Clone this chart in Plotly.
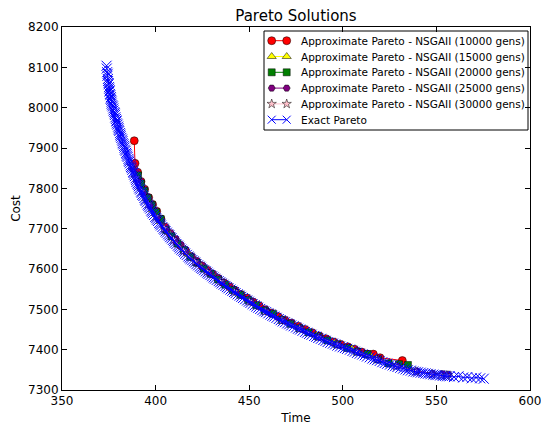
import plotly.graph_objects as go

# Exact Pareto front
exact_time = [373.8, 373.9, 374.1, 374.4, 374.3, 374.5, 374.6, 374.9, 374.9, 375.1,
              375.2, 375.5, 375.4, 375.6, 375.8, 376.1, 376.0, 376.3, 376.5, 376.5,
              376.8, 377.2, 377.4, 377.5, 377.9, 378.2, 378.3, 378.5, 378.8, 379.1,
              379.1, 379.3, 379.7, 380.0, 380.2, 380.3, 380.6, 381.0, 381.2, 381.3,
              381.7, 382.1, 382.3, 382.4, 382.8, 383.2, 383.4, 383.6, 384.0, 384.3,
              384.5, 384.7, 385.1, 385.5, 385.7, 385.9, 386.3, 386.7, 386.9, 387.2,
              387.6, 388.0, 388.2, 388.5, 388.9, 389.3, 389.6, 389.8, 390.3, 390.7,
              391.0, 391.3, 391.8, 392.3, 392.6, 392.9, 393.5, 394.0, 394.4, 394.7,
              395.3, 395.8, 396.2, 396.6, 397.2, 397.7, 398.1, 398.5, 399.2, 399.8,
              400.3, 400.7, 401.3, 401.9, 402.4, 402.9, 403.6, 404.3, 404.8, 405.3,
              406.0, 406.7, 407.3, 407.8, 408.5, 409.2, 409.8, 410.3, 411.1, 411.9,
              412.5, 413.0, 413.8, 414.6, 415.2, 415.8, 416.7, 417.5, 418.1, 418.7,
              419.6, 420.4, 421.1, 421.8, 422.7, 423.6, 424.3, 425.0, 425.9, 426.8,
              427.6, 428.3, 429.3, 430.2, 431.0, 431.7, 432.7, 433.7, 434.5, 435.3,
              436.3, 437.3, 438.1, 438.9, 440.0, 441.0, 441.9, 442.7, 443.8, 444.9,
              445.8, 446.7, 447.8, 448.9, 449.8, 450.7, 451.8, 452.9, 453.8, 454.8,
              455.9, 457.0, 458.0, 459.0, 460.2, 461.4, 462.4, 463.4, 464.6, 465.8,
              466.8, 467.9, 469.1, 470.3, 471.4, 472.4, 473.7, 475.0, 476.1, 477.2,
              478.5, 479.8, 480.9, 482.0, 483.3, 484.7, 485.8, 486.9, 488.3, 489.6,
              490.8, 491.9, 493.3, 494.7, 495.9, 497.1, 498.5, 499.9, 501.1, 502.3,
              503.8, 505.2, 506.4, 507.6, 509.0, 510.4, 511.7, 512.9, 514.4, 515.8,
              517.0, 518.3, 519.7, 521.1, 522.4, 523.7, 525.2, 526.6, 527.9, 529.2,
              530.7, 532.2, 533.5, 534.8, 536.3, 537.7, 539.0, 540.2, 541.6, 543.0,
              544.2, 545.4, 546.8, 548.3, 549.5, 550.6, 552.0, 553.4, 554.6, 555.7,
              557.0, 559.4, 561.8, 564.3, 566.5, 568.9, 571.2, 573.4, 575.3]
exact_cost = [8104, 8097, 8088, 8084, 8079, 8071, 8066, 8061, 8058, 8051,
              8047, 8043, 8040, 8034, 8031, 8026, 8022, 8019, 8015, 8010,
              8006, 8003, 7998, 7993, 7989, 7986, 7982, 7976, 7972, 7968,
              7966, 7961, 7958, 7953, 7949, 7945, 7942, 7937, 7933, 7929,
              7925, 7921, 7917, 7912, 7909, 7905, 7901, 7896, 7893, 7888,
              7885, 7881, 7878, 7873, 7869, 7866, 7862, 7857, 7853, 7850,
              7846, 7841, 7838, 7834, 7830, 7825, 7821, 7816, 7812, 7809,
              7805, 7800, 7797, 7792, 7789, 7784, 7781, 7776, 7772, 7769,
              7765, 7760, 7757, 7753, 7750, 7745, 7742, 7738, 7734, 7729,
              7726, 7722, 7719, 7714, 7711, 7708, 7704, 7700, 7697, 7693,
              7690, 7686, 7683, 7679, 7676, 7672, 7669, 7665, 7662, 7658,
              7655, 7651, 7648, 7645, 7642, 7638, 7635, 7631, 7628, 7625,
              7622, 7619, 7616, 7612, 7609, 7606, 7603, 7600, 7597, 7594,
              7591, 7588, 7585, 7582, 7579, 7576, 7573, 7570, 7567, 7564,
              7561, 7558, 7555, 7552, 7549, 7546, 7543, 7540, 7537, 7534,
              7531, 7528, 7525, 7522, 7519, 7516, 7513, 7510, 7507, 7504,
              7501, 7498, 7495, 7493, 7490, 7487, 7484, 7482, 7479, 7476,
              7473, 7470, 7468, 7465, 7463, 7460, 7458, 7455, 7452, 7450,
              7447, 7444, 7442, 7439, 7437, 7434, 7432, 7429, 7427, 7424,
              7422, 7419, 7417, 7415, 7413, 7410, 7408, 7406, 7404, 7402,
              7400, 7397, 7395, 7392, 7390, 7388, 7386, 7383, 7381, 7378,
              7376, 7374, 7372, 7369, 7367, 7365, 7363, 7361, 7359, 7357,
              7355, 7353, 7351, 7349, 7348, 7346, 7345, 7344, 7343, 7342,
              7341, 7340, 7339, 7338, 7337, 7337, 7336, 7335, 7335, 7334,
              7334, 7332, 7334, 7331, 7332, 7329, 7331, 7329, 7328]

# NSGAII, 10000 generations
nsga10k_time = [388.6, 389.0, 390.4, 392.2, 394.1, 396.3, 398.4, 400.6, 402.9, 405.0,
                407.8, 410.5, 413.2, 416.0, 419.1, 421.9, 424.7, 427.6, 430.5, 433.3,
                436.4, 439.5, 442.3, 445.6, 448.8, 452.1, 455.3, 458.5, 461.8, 465.4,
                469.1, 472.5, 476.2, 479.9, 483.7, 487.5, 491.1, 495.2, 498.9, 502.7,
                506.3, 510.1, 513.2, 516.3, 519.9, 531.8]
nsga10k_cost = [7918, 7862, 7840, 7817, 7798, 7777, 7760, 7743, 7724, 7704,
                7688, 7673, 7659, 7645, 7631, 7619, 7608, 7597, 7587, 7577,
                7566, 7556, 7547, 7537, 7528, 7518, 7509, 7499, 7491, 7482,
                7473, 7466, 7458, 7450, 7442, 7434, 7427, 7419, 7413, 7407,
                7401, 7394, 7389, 7389, 7380, 7373]

# NSGAII, 15000 generations
nsga15k_time = [389.5, 392.0, 395.0, 398.5, 402.5, 407.0, 412.0, 417.5, 423.5, 430.0,
                437.0, 444.5, 452.0, 460.0, 468.5, 477.0, 486.0, 495.5, 505.0, 515.0,
                525.0, 536.0]
nsga15k_cost = [7833, 7804, 7775, 7747, 7718, 7691, 7664, 7637, 7611, 7588,
                7564, 7540, 7516, 7494, 7473, 7454, 7436, 7417, 7402, 7384,
                7367, 7352]

# NSGAII, 20000 generations
nsga20k_time = [390.6, 392.2, 394.0, 395.9, 398.0, 400.3, 402.7, 405.6, 408.5, 411.7,
                415.0, 418.5, 422.0, 425.7, 429.5, 433.3, 437.2, 441.2, 445.3, 449.5,
                453.8, 458.2, 462.7, 467.3, 472.0, 476.8, 481.7, 486.7, 491.8, 497.0,
                502.3, 507.7, 513.2, 518.8, 524.5, 530.0, 534.8]
nsga20k_cost = [7832, 7812, 7794, 7776, 7759, 7741, 7724, 7697, 7681, 7663,
                7647, 7630, 7616, 7601, 7588, 7574, 7561, 7548, 7536, 7523,
                7510, 7497, 7489, 7474, 7464, 7453, 7443, 7433, 7423, 7413,
                7404, 7395, 7389, 7376, 7366, 7364, 7362]

# NSGAII, 25000 generations
nsga25k_time = [388.0, 390.5, 393.5, 397.0, 401.0, 405.5, 410.5, 416.0, 422.0, 428.5,
                435.5, 443.0, 451.0, 459.5, 468.0, 477.5, 487.5, 497.5, 508.0, 518.5,
                529.0, 539.5, 548.0, 553.5, 556.5]
nsga25k_cost = [7848, 7817, 7787, 7756, 7726, 7697, 7669, 7642, 7616, 7591,
                7566, 7543, 7519, 7494, 7473, 7452, 7431, 7412, 7395, 7377,
                7360, 7347, 7341, 7340, 7339]

# NSGAII, 30000 generations
nsga30k_time = [387.0, 389.5, 392.5, 396.0, 400.0, 404.5, 409.5, 415.0, 421.0, 427.5,
                434.5, 442.0, 450.0, 458.5, 467.5, 477.0, 487.0, 497.0, 507.5, 518.0,
                528.5, 539.0, 547.5, 552.5, 555.5]
nsga30k_cost = [7856, 7826, 7793, 7761, 7730, 7701, 7673, 7645, 7618, 7593,
                7569, 7544, 7520, 7495, 7473, 7452, 7431, 7412, 7394, 7376,
                7359, 7346, 7339, 7337, 7336]

series_names = ["Approximate Pareto - NSGAII (10000 gens)",
                "Approximate Pareto - NSGAII (15000 gens)",
                "Approximate Pareto - NSGAII (20000 gens)",
                "Approximate Pareto - NSGAII (25000 gens)",
                "Approximate Pareto - NSGAII (30000 gens)",
                "Exact Pareto"]

x_ticks = [350, 400, 450, 500, 550, 600]
y_ticks = [7300, 7400, 7500, 7600, 7700, 7800, 7900, 8000, 8100, 8200]

FONT = "DejaVu Sans"

# plot area in page pixels
PLOT_L, PLOT_R, PLOT_T, PLOT_B = 62, 530, 27, 390

styles = [
    dict(line=dict(color="#ff0000", width=1),
         marker=dict(symbol="circle", size=8, color="#ff0000", line=dict(color="black", width=0.5))),
    dict(line=dict(color="#ffff00", width=1),
         marker=dict(symbol="triangle-up", size=8, color="#ffff00", line=dict(color="black", width=0.5))),
    dict(line=dict(color="#008000", width=1),
         marker=dict(symbol="square", size=7, color="#008000", line=dict(color="black", width=0.5))),
    dict(line=dict(color="#800080", width=1),
         marker=dict(symbol="hexagon2", size=7, color="#800080", line=dict(color="black", width=0.5))),
    dict(line=dict(color="#ffc0cb", width=1),
         marker=dict(symbol="star", size=7, color="#ffc0cb", line=dict(color="black", width=0.5))),
    dict(line=dict(color="#0000ff", width=1),
         marker=dict(symbol="x-thin", size=10, color="#0000ff", line=dict(color="#0000ff", width=1))),
]

series = [(nsga10k_time, nsga10k_cost), (nsga15k_time, nsga15k_cost),
          (nsga20k_time, nsga20k_cost), (nsga25k_time, nsga25k_cost),
          (nsga30k_time, nsga30k_cost), (exact_time, exact_cost)]

fig = go.Figure()
for (t, c), name, st in zip(series, series_names, styles):
    fig.add_trace(go.Scatter(x=t, y=c, name=name, mode="lines+markers",
                             showlegend=False, **st))

# Legend drawn on a pixel-unit overlay axis: two-point key samples + labels
LEG_L, LEG_R, LEG_T, LEG_B = 264, 528, 31, 130
ROW0, ROW_STEP = 40.7, 15.8
KEY_X0, KEY_X1, TEXT_X = 271.7, 286.7, 299.0

fig.add_shape(type="rect", xref="x2", yref="y2",
              x0=LEG_L, x1=LEG_R, y0=LEG_T, y1=LEG_B,
              line=dict(color="black", width=1), fillcolor="white", layer="below")
for i, (name, st) in enumerate(zip(series_names, styles)):
    yrow = ROW0 + i * ROW_STEP
    key_style = dict(st)
    if i == 5:
        key_style = dict(line=st["line"], marker=dict(st["marker"], size=8))
    fig.add_trace(go.Scatter(x=[KEY_X0, KEY_X1], y=[yrow, yrow], mode="lines+markers",
                             xaxis="x2", yaxis="y2", showlegend=False,
                             hoverinfo="skip", cliponaxis=False, **key_style))
    fig.add_annotation(xref="x2", yref="y2", x=TEXT_X, y=yrow, text=name,
                       showarrow=False, xanchor="left", yanchor="middle",
                       font=dict(family=FONT, size=10.5, color="black"))

axis_common = dict(
    showline=True, linecolor="black", linewidth=1, mirror="ticks",
    ticks="inside", ticklen=5, tickwidth=1, tickcolor="black",
    showgrid=False, zeroline=False, automargin=False,
    tickfont=dict(family=FONT, size=12, color="black"),
)

fig.update_layout(
    width=541, height=426,
    margin=dict(l=PLOT_L, r=541 - PLOT_R, t=PLOT_T, b=426 - PLOT_B),
    paper_bgcolor="white", plot_bgcolor="white",
    font=dict(family=FONT, color="black"),
    title=dict(text="Pareto Solutions", font=dict(family=FONT, size=15, color="black"),
               x=0.5, xref="paper", xanchor="center",
               y=1 - 16 / 426, yref="container", yanchor="middle"),
    xaxis=dict(range=[350, 600], tickvals=x_ticks, ticklabeloverflow="allow",
               title=dict(text="Time", font=dict(family=FONT, size=12, color="black"), standoff=6),
               **axis_common),
    yaxis=dict(range=[7300, 8200], tickvals=y_ticks,
               title=dict(text="Cost", font=dict(family=FONT, size=12, color="black"), standoff=4),
               **axis_common),
    xaxis2=dict(overlaying="x", anchor="y2", range=[PLOT_L, PLOT_R], visible=False,
                fixedrange=True),
    yaxis2=dict(overlaying="y", anchor="x2", range=[PLOT_B, PLOT_T], visible=False,
                fixedrange=True),
    showlegend=False,
)

fig.write_html("out.html")
